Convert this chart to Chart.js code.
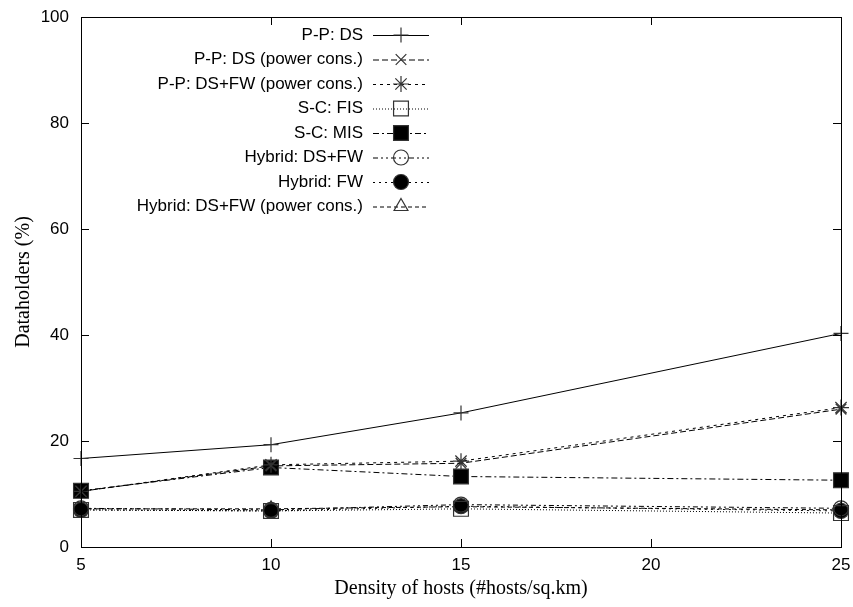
<!DOCTYPE html>
<html>
<head>
<meta charset="utf-8">
<script src="https://cdn.jsdelivr.net/npm/chart.js@4.4.1/dist/chart.umd.min.js"></script>
<style>
  html, body { margin: 0; padding: 0; background: #fff; }
  #wrap { width: 853px; height: 607px; position: relative; }
</style>
</head>
<body>
<div id="wrap"><canvas id="chart"></canvas></div>
<script>
// Density of hosts (x axis)
const densities = [5, 10, 15, 25]

// Dataholders (%) per scheme
const ppDS = [16.7, 19.3, 25.3, 40.3]
const ppDSPower = [10.5, 15.3, 15.8, 26.0]
const ppDSFWPower = [10.5, 15.5, 16.2, 26.3]
const scFIS = [7.0, 6.8, 7.2, 6.4]
const scMIS = [10.6, 15.0, 13.3, 12.6]
const hybDSFW = [7.3, 7.0, 8.0, 7.3]
const hybFW = [7.0, 6.8, 7.7, 6.8]
const hybDSFWPower = [7.2, 7.2, 7.6, 7.0]

const seriesLabels = [
  'P-P: DS',
  'P-P: DS (power cons.)',
  'P-P: DS+FW (power cons.)',
  'S-C: FIS',
  'S-C: MIS',
  'Hybrid: DS+FW',
  'Hybrid: FW',
  'Hybrid: DS+FW (power cons.)'
]
const xTicks = [5, 10, 15, 20, 25]
const yTicks = [0, 20, 40, 60, 80, 100]

function toPoints(values) {
  return values.map((v, i) => ({ x: densities[i], y: v }))
}

// line dash + marker per series (gnuplot-like monochrome styles)
const styles = [
  { dash: [], point: 'cross', radius: 7.5, fill: 'rgba(0,0,0,0)' },
  { dash: [6, 3], point: 'crossRot', radius: 7.5, fill: 'rgba(0,0,0,0)' },
  { dash: [3, 4], point: 'star', radius: 8, fill: 'rgba(0,0,0,0)' },
  { dash: [1, 2], point: 'rect', radius: 10.5, fill: 'rgba(0,0,0,0)' },
  { dash: [6, 3, 2, 3], point: 'rect', radius: 10.5, fill: '#000' },
  { dash: [5, 3, 2, 3, 2, 3], point: 'circle', radius: 7.5, fill: 'rgba(0,0,0,0)' },
  { dash: [2, 4], point: 'circle', radius: 7.5, fill: '#000' },
  { dash: [4, 3], point: 'triangle', radius: 8, fill: 'rgba(0,0,0,0)' }
]

const seriesData = [ppDS, ppDSPower, ppDSFWPower, scFIS, scMIS, hybDSFW, hybFW, hybDSFWPower]

const datasets = seriesData.map((vals, i) => ({
  label: seriesLabels[i],
  data: toPoints(vals),
  borderColor: '#000',
  borderWidth: 1,
  borderDash: styles[i].dash,
  tension: 0,
  pointStyle: styles[i].point,
  pointRadius: styles[i].radius,
  pointBorderColor: '#333',
  pointBorderWidth: 1.2,
  pointBackgroundColor: styles[i].fill,
  clip: false
}))

// box around the plot + inward ticks on all four sides
const frame = {
  id: 'frame',
  afterDatasetsDraw(chart) {
    const { ctx, chartArea: a, scales } = chart
    ctx.save()
    ctx.strokeStyle = '#000'
    ctx.lineWidth = 1
    ctx.setLineDash([])
    ctx.strokeRect(a.left + 0.5, a.top + 0.5, a.right - a.left, a.bottom - a.top)
    ctx.beginPath()
    xTicks.forEach((v) => {
      const px = Math.round(scales.x.getPixelForValue(v)) + 0.5
      ctx.moveTo(px, a.bottom); ctx.lineTo(px, a.bottom - 8)
      ctx.moveTo(px, a.top); ctx.lineTo(px, a.top + 8)
    })
    yTicks.forEach((v) => {
      const py = Math.round(scales.y.getPixelForValue(v)) + 0.5
      ctx.moveTo(a.left, py); ctx.lineTo(a.left + 8, py)
      ctx.moveTo(a.right, py); ctx.lineTo(a.right - 8, py)
    })
    ctx.stroke()
    ctx.restore()
  }
}

// gnuplot style key: text right-aligned, sample line to the right
const key = {
  id: 'key',
  afterDraw(chart) {
    const { ctx } = chart
    ctx.save()
    ctx.font = '17px "Liberation Sans", Arial, sans-serif'
    ctx.textAlign = 'right'
    ctx.textBaseline = 'middle'
    chart.data.datasets.forEach((ds, i) => {
      const y = 35 + i * 24.5
      ctx.fillStyle = '#000'
      ctx.fillText(ds.label, 363, y)
      ctx.strokeStyle = '#000'
      ctx.lineWidth = 1
      ctx.setLineDash(ds.borderDash)
      ctx.beginPath()
      ctx.moveTo(373, y + 0.5)
      ctx.lineTo(429, y + 0.5)
      ctx.stroke()
      ctx.setLineDash([])
      ctx.strokeStyle = ds.pointBorderColor
      ctx.fillStyle = ds.pointBackgroundColor
      ctx.lineWidth = ds.pointBorderWidth
      Chart.helpers.drawPoint(ctx, {
        pointStyle: ds.pointStyle,
        radius: ds.pointRadius,
        rotation: 0,
        borderWidth: ds.pointBorderWidth
      }, 401, y)
    })
    ctx.restore()
  }
}

new Chart(document.getElementById('chart'), {
  type: 'line',
  data: { datasets },
  options: {
    responsive: true,
    maintainAspectRatio: false,
    animation: false,
    layout: { padding: { top: 17, right: 12, left: 0, bottom: 0 } },
    plugins: {
      legend: { display: false },
      tooltip: { enabled: false }
    },
    scales: {
      x: {
        type: 'linear',
        min: 5,
        max: 25,
        afterBuildTicks: (s) => { s.ticks = xTicks.map((v) => ({ value: v })) },
        afterFit: (s) => { s.height = 60; s.paddingLeft = 0; s.paddingRight = 0 },
        grid: { drawOnChartArea: false, drawTicks: false },
        border: { display: false },
        ticks: {
          color: '#000',
          padding: 8,
          font: { family: '"Liberation Sans", Arial, sans-serif', size: 17 }
        },
        title: {
          display: true,
          text: 'Density of hosts (#hosts/sq.km)',
          color: '#000',
          padding: { top: 0, bottom: 6 },
          font: { family: '"Liberation Serif", "Times New Roman", serif', size: 20 }
        }
      },
      y: {
        min: 0,
        max: 100,
        afterBuildTicks: (s) => { s.ticks = yTicks.map((v) => ({ value: v })) },
        afterFit: (s) => { s.width = 81; s.paddingTop = 0; s.paddingBottom = 0 },
        grid: { drawOnChartArea: false, drawTicks: false },
        border: { display: false },
        ticks: {
          color: '#000',
          padding: 12,
          font: { family: '"Liberation Sans", Arial, sans-serif', size: 17 }
        },
        title: {
          display: true,
          text: 'Dataholders (%)',
          color: '#000',
          padding: { top: 12, bottom: 0 },
          font: { family: '"Liberation Serif", "Times New Roman", serif', size: 20 }
        }
      }
    }
  },
  plugins: [frame, key]
})
</script>
</body>
</html>
